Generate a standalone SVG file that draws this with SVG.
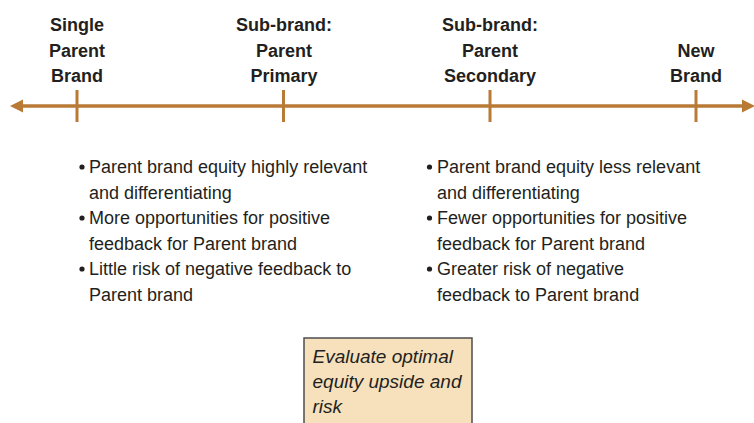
<svg xmlns="http://www.w3.org/2000/svg" width="754" height="423" viewBox="0 0 754 423">
<style>
.bg{fill:#ffffff}
.title{font-family:"Liberation Sans",Arial,sans-serif;font-weight:bold;font-size:18px;fill:#231f20;text-anchor:middle}
.body{font-family:"Liberation Sans",Arial,sans-serif;font-size:18px;fill:#231f20}
.ital{font-family:"Liberation Sans",Arial,sans-serif;font-style:italic;font-size:19px;fill:#231f20}
.axis{stroke:#b97a36;stroke-width:3.4;fill:none}
.tick{stroke:#b97a36;stroke-width:3;fill:none}
.head{fill:#b97a36}
.dot{fill:#231f20}
.box{fill:#f6e1bc;stroke:#4d4d4d;stroke-width:1.5}
</style>
<rect class="bg" x="0" y="0" width="754" height="423"/>
<g id="connectors">
  <line class="axis" x1="20" y1="106" x2="748" y2="106"/>
  <polygon class="head" points="10,106 23,99.5 23,112.5"/>
  <polygon class="head" points="755,106 742,99.5 742,112.5"/>
</g>
<g id="single-parent-brand">
  <line class="tick" x1="77" y1="90" x2="77" y2="122"/>
  <text class="title" x="77" y="31">Single</text>
  <text class="title" x="77" y="56.5">Parent</text>
  <text class="title" x="77" y="82">Brand</text>
</g>
<g id="subbrand-parent-primary">
  <line class="tick" x1="283.5" y1="90" x2="283.5" y2="122"/>
  <text class="title" x="284" y="31">Sub-brand:</text>
  <text class="title" x="284" y="56.5">Parent</text>
  <text class="title" x="284" y="82">Primary</text>
</g>
<g id="subbrand-parent-secondary">
  <line class="tick" x1="490" y1="90" x2="490" y2="122"/>
  <text class="title" x="490" y="31">Sub-brand:</text>
  <text class="title" x="490" y="56.5">Parent</text>
  <text class="title" x="490" y="82">Secondary</text>
</g>
<g id="new-brand">
  <line class="tick" x1="696" y1="90" x2="696" y2="122"/>
  <text class="title" x="696" y="56.5">New</text>
  <text class="title" x="696" y="82">Brand</text>
</g>
<g id="left-bullets">
  <circle class="dot" cx="82" cy="167" r="2.6"/>
  <text class="body" x="89" y="173">Parent brand equity highly relevant</text>
  <text class="body" x="89" y="198.5">and differentiating</text>
  <circle class="dot" cx="82" cy="218" r="2.6"/>
  <text class="body" x="89" y="224">More opportunities for positive</text>
  <text class="body" x="89" y="249.5">feedback for Parent brand</text>
  <circle class="dot" cx="82" cy="269" r="2.6"/>
  <text class="body" x="89" y="275">Little risk of negative feedback to</text>
  <text class="body" x="89" y="300.5">Parent brand</text>
</g>
<g id="right-bullets">
  <circle class="dot" cx="429.5" cy="167" r="2.6"/>
  <text class="body" x="437" y="173">Parent brand equity less relevant</text>
  <text class="body" x="437" y="198.5">and differentiating</text>
  <circle class="dot" cx="429.5" cy="218" r="2.6"/>
  <text class="body" x="437" y="224">Fewer opportunities for positive</text>
  <text class="body" x="437" y="249.5">feedback for Parent brand</text>
  <circle class="dot" cx="429.5" cy="269" r="2.6"/>
  <text class="body" x="437" y="275">Greater risk of negative</text>
  <text class="body" x="437" y="300.5">feedback to Parent brand</text>
</g>
<g id="evaluate-box">
  <rect class="box" x="304" y="338" width="168" height="90"/>
  <text class="ital" x="312.5" y="363">Evaluate optimal</text>
  <text class="ital" x="312.5" y="388">equity upside and</text>
  <text class="ital" x="312.5" y="413">risk</text>
</g>
</svg>
